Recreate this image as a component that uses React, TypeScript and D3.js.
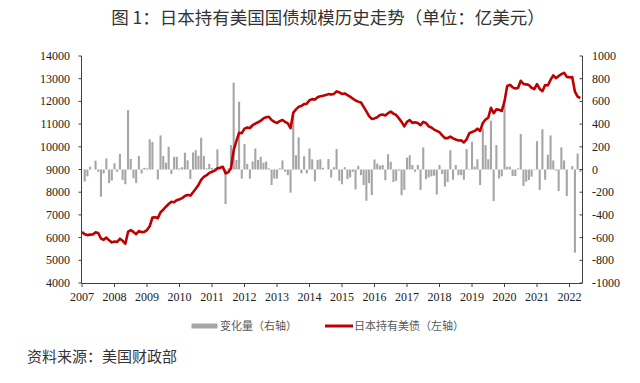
import React from "react";
import * as d3 from "d3";

const startYear = 2007;
const yearTicks = [2007, 2008, 2009, 2010, 2011, 2012, 2013, 2014, 2015, 2016, 2017, 2018, 2019, 2020, 2021, 2022];
const leftTicks = [4000, 5000, 6000, 7000, 8000, 9000, 10000, 11000, 12000, 13000, 14000];
const rightTicks = [-1000, -800, -600, -400, -200, 0, 200, 400, 600, 800, 1000];

// 日本持有美债（亿美元），月度 2007-01 ~ 2022-05
const holdings = [
  6250, 6150, 6110, 6130, 6140, 6230, 6200, 5960, 5900, 6000, 5880, 5790,
  5830, 5810, 5950, 5860, 5730, 6250, 6330, 6250, 6150, 6290, 6240, 6250,
  6330, 6500, 6880, 6900, 6850, 7120, 7230, 7360, 7480, 7580, 7560, 7650,
  7690, 7740, 7830, 7880, 7850, 8000, 8150, 8320, 8540, 8680, 8750, 8850,
  8900, 8950, 9050, 9080, 9120, 8830, 8880, 9050, 9850, 10250, 10620, 10600,
  10800, 10850, 10830, 10950, 11020, 11080, 11150, 11250, 11300, 11320, 11180, 11100,
  11050, 11130, 11180, 11100, 11030, 10820, 11500, 11650, 11760, 11800, 11880, 11900,
  12050, 12100, 12080, 12180, 12230, 12250, 12280, 12320, 12300, 12330, 12440, 12400,
  12330, 12350, 12280, 12210, 12120, 12040, 11990, 11950, 11760, 11560, 11350, 11230,
  11250, 11300, 11400, 11420, 11380, 11480, 11550, 11460, 11400, 11250, 11100, 10900,
  11100, 11180, 11050, 11080, 11050, 10950, 11100, 11050, 10900, 10850, 10760, 10700,
  10640, 10500, 10380, 10380, 10450, 10370, 10320, 10280, 10290, 10190, 10330, 10600,
  10650, 10700, 10800, 10700, 11050, 11200, 11280, 11720, 11480, 11650, 11630, 11580,
  12000, 12680, 12730, 12620, 12570, 12590, 12910, 12770, 12750, 12720, 12600, 12540,
  12760, 12550, 12450, 12720, 12700, 12950, 13150, 13020, 13120, 13200, 13260, 13080,
  13060, 13070, 12430, 12210, 12140,
];

// 变化量（亿美元）
const changes = [
  0, -105, -60, 25, 0, 78, -20, -240, -35, 98, -120, -98,
  55, -20, 137, -92, -130, 524, 93, -78, -120, 120, -35, 15,
  10, 266, 243, 0, -88, 300, 118, 60, 200, -40, 112, 112,
  10, 20, 148, 80, -84, 150, 170, 120, 280, 120, 10, 50,
  15, 10, 178, 20, 10, -304, 10, 215, 765, 84, 597, -80,
  225, 50, -80, 70, 185, 84, 113, 60, 70, 10, -137, -80,
  -80, 10, 80, -20, -50, -204, 510, 125, 283, -35, 117, -35,
  185, 90, -105, 85, 90, 15, 0, 92, -70, 20, 180, -100,
  -130, 20, -85, -70, -20, -176, 33, -50, -137, -275, -120, -225,
  88, 53, 35, 40, -95, 135, 68, -110, -100, -10, -226, -180,
  105, 125, 40, -20, 40, -180, 195, -85, -70, -60, -55, -220,
  40, -40, -150, -110, 170, -90, 40, -50, -50, -90, 180, 5,
  245, 25, 90, -137, 363, 215, 90, 430, -278, 215, -80, -60,
  568, 25, 25, -57, -57, 10, 312, -145, -107, -93, -63, 5,
  250, -180, 355, -90, 130, 300, 80, -10, -190, 195, 80, -235,
  0, 30, -733, 140, -20,
];

const W = 640;
const H = 383;
const left = 81.5;
const right = 582.5;
const top = 56;
const bottom = 283;
const serif = "'Liberation Serif', 'Times New Roman', serif";
const cjk = "'Noto Sans CJK SC', 'Noto Sans', sans-serif";

export default function App() {
  const n = holdings.length;
  const monthW = 32.5 / 12;
  const x = d3.scaleLinear().domain([0, n - 1]).range([82, 82 + (n - 1) * monthW]);
  const yL = d3.scaleLinear().domain([4000, 14000]).range([bottom, top]);
  const yR = d3.scaleLinear().domain([-1000, 1000]).range([bottom, top]);
  const line = d3
    .line<number>()
    .x((_, i) => x(i))
    .y((d) => yL(d));
  const barW = 2.1;
  const axisColor = "#404040";

  return (
    <svg width={W} height={H} style={{ position: "absolute", left: 0, top: 0, background: "#fff" }}>
      <rect width={W} height={H} fill="#fff" />
      <text x={328} y={24} textAnchor="middle" fontFamily={cjk} fontSize={17.5} fill="#333">
        图 1：日本持有美国国债规模历史走势（单位：亿美元）
      </text>

      {/* bars */}
      <g>
        {changes.map((v, i) => {
          const y0 = yR(0);
          const y1 = yR(v);
          return (
            <rect
              key={i}
              x={x(i) - barW / 2}
              y={Math.min(y0, y1)}
              width={barW}
              height={Math.abs(y1 - y0)}
              fill="#a6a6a6"
            />
          );
        })}
      </g>

      {/* line */}
      <path d={line(holdings) || ""} fill="none" stroke="#c00000" strokeWidth={2.6} strokeLinejoin="round" />

      {/* left axis */}
      <line x1={left} x2={left} y1={top} y2={bottom} stroke={axisColor} strokeWidth={1} />
      {leftTicks.map((t) => (
        <g key={t}>
          <line x1={left - 3} x2={left} y1={yL(t)} y2={yL(t)} stroke={axisColor} />
          <text x={70} y={yL(t) + 4} textAnchor="end" fontFamily={serif} fontSize={12} fill="#222">
            {t}
          </text>
        </g>
      ))}

      {/* right axis */}
      <line x1={right} x2={right} y1={top} y2={bottom} stroke={axisColor} strokeWidth={1} />
      {rightTicks.map((t) => (
        <g key={t}>
          <line x1={right - 3} x2={right} y1={yR(t)} y2={yR(t)} stroke={axisColor} />
          <text x={592} y={yR(t) + 4} textAnchor="start" fontFamily={serif} fontSize={12} fill="#222">
            {t}
          </text>
        </g>
      ))}

      {/* x axis */}
      <line x1={left} x2={right} y1={bottom + 0.5} y2={bottom + 0.5} stroke={axisColor} strokeWidth={1} />
      {yearTicks.map((yr) => {
        const xi = x((yr - startYear) * 12);
        return (
          <g key={yr}>
            <line x1={xi} x2={xi} y1={bottom} y2={bottom + 4} stroke={axisColor} />
            <text x={xi} y={301} textAnchor="middle" fontFamily={serif} fontSize={12} fill="#222">
              {yr}
            </text>
          </g>
        );
      })}

      {/* legend */}
      <rect x={191.5} y={323.5} width={26} height={5} fill="#a6a6a6" />
      <text x={220} y={330} fontFamily={cjk} fontSize={11} fill="#595959">
        变化量（右轴）
      </text>
      <line x1={325} x2={353} y1={326} y2={326} stroke="#c00000" strokeWidth={3} />
      <text x={354} y={330} fontFamily={cjk} fontSize={11} fill="#595959">
        日本持有美债（左轴）
      </text>

      <text x={27} y={362} fontFamily={cjk} fontSize={15} fill="#333">
        资料来源：美国财政部
      </text>
    </svg>
  );
}
